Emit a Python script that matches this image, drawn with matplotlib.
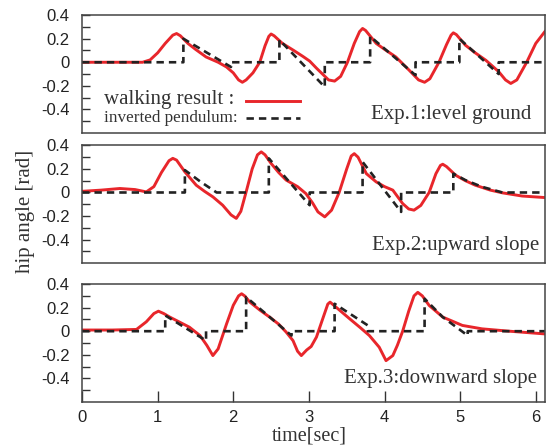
import matplotlib
matplotlib.use('Agg')
import matplotlib.pyplot as plt

# ---- data ----
# Exp.1 level ground
t1_red = [0, 0.5, 0.8, 0.9, 1.0, 1.1, 1.2, 1.25, 1.3, 1.4, 1.5, 1.64, 1.8, 1.91, 2.0, 2.07, 2.12, 2.17,
          2.26, 2.35, 2.42, 2.47, 2.50, 2.54, 2.65, 2.8, 2.92, 3.01, 3.1, 3.18, 3.26, 3.34, 3.42, 3.51,
          3.6, 3.67, 3.71, 3.75, 3.89, 4.0, 4.15, 4.33, 4.45, 4.53, 4.6, 4.72, 4.82, 4.88, 4.91, 4.95,
          5.07, 5.2, 5.34, 5.51, 5.6, 5.67, 5.75, 5.88, 6.0, 6.12]
v1_red = [0, 0, 0, 0.02, 0.08, 0.16, 0.23, 0.244, 0.225, 0.16, 0.11, 0.045, 0.0, -0.04, -0.09, -0.15, -0.17, -0.15,
          -0.09, 0.0, 0.14, 0.22, 0.24, 0.225, 0.16, 0.10, 0.05, 0.01, -0.05, -0.10, -0.15, -0.16, -0.12, 0.0,
          0.16, 0.26, 0.287, 0.27, 0.16, 0.11, 0.045, -0.07, -0.15, -0.17, -0.14, 0.0, 0.15, 0.23, 0.25, 0.235,
          0.145, 0.08, 0.017, -0.08, -0.15, -0.18, -0.15, 0.0, 0.16, 0.26]
t1_ip = [0, 1.34, 1.34, 1.97, 1.97, 2.61, 2.61, 3.21, 3.21, 3.81, 3.81, 4.41, 4.41, 4.99, 4.99, 5.51, 5.51, 6.12]
v1_ip = [0, 0, 0.2, -0.04, 0, 0, 0.19, -0.21, 0, 0, 0.22, -0.11, 0, 0, 0.2, -0.1, 0, 0]

# Exp.2 upward slope
t2_red = [0, 0.25, 0.5, 0.7, 0.85, 0.95, 1.05, 1.15, 1.20, 1.25, 1.36, 1.51, 1.62, 1.73, 1.86, 1.97, 2.04, 2.1,
          2.17, 2.25, 2.32, 2.37, 2.42, 2.5, 2.6, 2.7, 2.85, 2.96, 3.05, 3.12, 3.21, 3.3, 3.4, 3.5, 3.56, 3.6,
          3.65, 3.76, 3.89, 4.0, 4.11, 4.24, 4.32, 4.39, 4.48, 4.59, 4.68, 4.74, 4.77, 4.82, 4.94, 5.07, 5.2,
          5.4, 5.56, 5.82, 6.12]
v2_red = [0.01, 0.02, 0.034, 0.025, 0.005, 0.05, 0.17, 0.27, 0.29, 0.275, 0.175, 0.062, 0.01, -0.037, -0.108, -0.19, -0.22, -0.16,
          0.005, 0.2, 0.32, 0.345, 0.32, 0.247, 0.17, 0.105, 0.05, -0.009, -0.09, -0.165, -0.207, -0.15, 0.0, 0.2, 0.31, 0.33,
          0.3, 0.16, 0.09, 0.05, 0.02, -0.094, -0.14, -0.15, -0.11, 0.0, 0.16, 0.23, 0.24, 0.22, 0.147, 0.1, 0.062,
          0.02, -0.003, -0.03, -0.043]
t2_ip = [0, 1.36, 1.36, 1.57, 1.78, 2.47, 2.47, 3.01, 3.01, 3.71, 3.71, 4.22, 4.22, 4.91, 4.91, 5.07, 5.29, 5.56, 6.12]
v2_ip = [0, 0, 0.19, 0.09, 0, 0, 0.29, -0.108, 0, 0, 0.26, -0.165, 0, 0, 0.16, 0.105, 0.048, 0, 0]

# Exp.3 downward slope
t3_red = [0, 0.4, 0.72, 0.85, 0.95, 1.01, 1.08, 1.16, 1.42, 1.56, 1.65, 1.73, 1.8, 1.91, 2.0, 2.07, 2.11, 2.15,
          2.22, 2.35, 2.48, 2.6, 2.70, 2.79, 2.85, 2.90, 2.97, 3.03, 3.1, 3.18, 3.25, 3.28, 3.33, 3.54, 3.68,
          3.80, 3.93, 4.02, 4.11, 4.17, 4.24, 4.32, 4.39, 4.44, 4.5, 4.59, 4.77, 5.03, 5.29, 5.65, 6.12]
v3_red = [0.01, 0.01, 0.015, 0.08, 0.15, 0.17, 0.15, 0.12, 0.034, -0.037, -0.12, -0.207, -0.15, 0.06, 0.22, 0.3, 0.318, 0.3,
          0.247, 0.18, 0.12, 0.06, -0.008, -0.08, -0.17, -0.207, -0.16, -0.13, -0.05, 0.1, 0.23, 0.247, 0.22, 0.105, 0.03,
          -0.037, -0.136, -0.25, -0.207, -0.12, 0.0, 0.17, 0.3, 0.33, 0.3, 0.219, 0.12, 0.049, 0.02, 0.0, -0.023]
t3_ip = [0, 1.10, 1.10, 1.64, 1.64, 2.17, 2.17, 2.77, 2.77, 3.34, 3.34, 3.78, 3.78, 4.53, 4.53, 4.77, 5.10, 5.10, 6.12]
v3_ip = [0, 0, 0.134, -0.08, 0, 0, 0.29, -0.037, 0, 0, 0.233, 0.049, 0, 0, 0.276, 0.12, -0.037, 0, 0]

panels = [
    (t1_red, v1_red, t1_ip, v1_ip, 'Exp.1:level ground'),
    (t2_red, v2_red, t2_ip, v2_ip, 'Exp.2:upward slope'),
    (t3_red, v3_red, t3_ip, v3_ip, 'Exp.3:downward slope'),
]
yticks = [-0.4, -0.2, 0, 0.2, 0.4]
ytick_labels = ['-0.4', '-0.2', '0', '0.2', '0.4']
yminor = [-0.5, -0.3, -0.1, 0.1, 0.3]
xticks = [0, 1, 2, 3, 4, 5, 6]

red = '#e8262b'
serif = 'Liberation Serif'
sans = 'Liberation Sans'
dash = (0, (2.8, 1.9))

fig = plt.figure(figsize=(5.47, 4.46), dpi=100)
# axes boxes in figure fraction: [left, bottom, width, height]
boxes = [[0.150, 0.702, 0.846, 0.264],
         [0.150, 0.410, 0.846, 0.264],
         [0.150, 0.099, 0.846, 0.264]]
label_pos = [(0.970, 0.16), (0.987, 0.15), (0.983, 0.195)]

for i, (tr, vr, ti, vi, name) in enumerate(panels):
    ax = fig.add_axes(boxes[i])
    ax.plot(tr, vr, color=red, lw=2.1, solid_joinstyle='round')
    ax.plot(ti, vi, color='#222222', lw=1.9, linestyle=dash)
    ax.set_xlim(0, 6.12)
    ax.set_ylim(-0.6, 0.4)
    ax.set_yticks(yticks)
    ax.set_yticklabels(ytick_labels, family=sans, fontsize=12)
    ax.set_yticks(yminor, minor=True)
    ax.tick_params(axis='y', which='both', direction='in', length=6, width=1, pad=9, colors='#333333')
    ax.tick_params(axis='y', labelcolor='#222222')
    if i < 2:
        ax.set_xticks([])
    else:
        ax.set_xticks(xticks)
        ax.set_xticklabels([str(x) for x in xticks], family=sans, fontsize=12)
        ax.tick_params(axis='x', direction='in', length=8, width=1, pad=6, colors='#333333',
                       labelcolor='#222222')
    for s in ax.spines.values():
        s.set_color('#444444')
        s.set_linewidth(1.1)
    ax.text(label_pos[i][0], label_pos[i][1], name, transform=ax.transAxes, ha='right', va='center',
            family=serif, fontsize=15, color='#333333')
    if i == 0:
        ax.text(0.047, 0.28, 'walking result :', transform=ax.transAxes, ha='left', va='center',
                family=serif, fontsize=15, color='#333333')
        ax.text(0.047, 0.127, 'inverted pendulum:', transform=ax.transAxes, ha='left', va='center',
                family=serif, fontsize=12.3, color='#333333')
        ax.plot([0.355, 0.472], [0.27, 0.27], transform=ax.transAxes, color=red, lw=2.1)
        ax.plot([0.355, 0.472], [0.127, 0.127], transform=ax.transAxes, color='#222222', lw=1.9,
                linestyle=dash)

fig.text(0.046, 0.527, 'hip angle [rad]', rotation=90, ha='center', va='center',
         family=serif, fontsize=15, color='#333333')
fig.text(0.565, 0.022, 'time[sec]', ha='center', va='center', family=serif, fontsize=14.5, color='#333333')

fig.savefig('out.png', dpi=100)
